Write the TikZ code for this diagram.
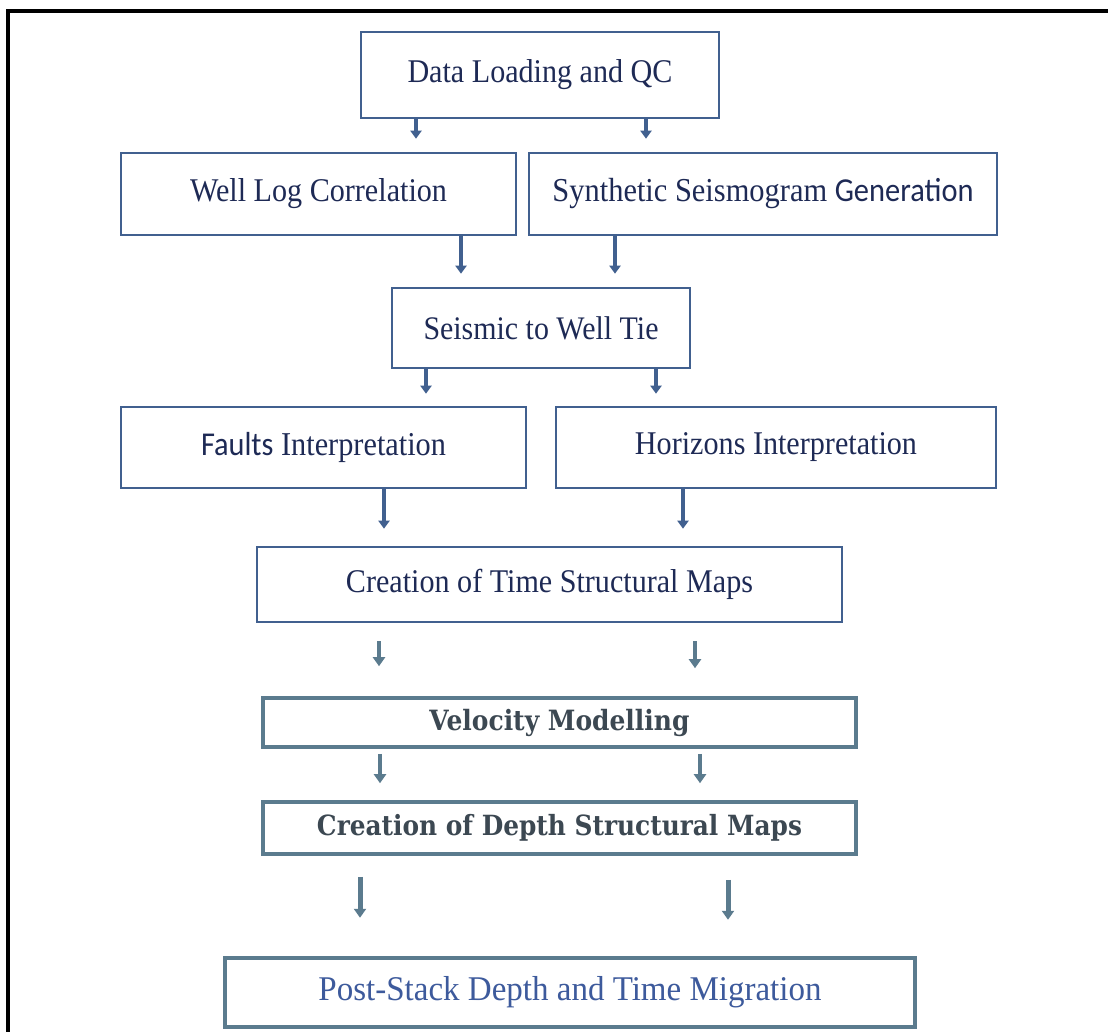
\documentclass[tikz,border=0pt]{standalone}
\usepackage{fontspec}
\setmainfont{Liberation Serif}
\newfontfamily\carl{Carlito}
\newfontfamily\schl{DejaVu Serif}
\usetikzlibrary{arrows.meta}
\definecolor{topblue}{HTML}{41608F}
\definecolor{navy}{HTML}{1E2A55}
\definecolor{grayblue}{HTML}{5B7B8E}
\definecolor{darkgray}{HTML}{3C4852}
\definecolor{postblue}{HTML}{3D5A9C}
\newcommand\tb[3]{\scalebox{1}[#2]{\resizebox{#1pt}{!}{#3}}}
\begin{document}
\begin{tikzpicture}[x=1pt,y=-1pt,
  box/.style={draw=topblue, line width=2.6pt, fill=white, inner sep=0pt, text=navy},
  lbox/.style={draw=grayblue, line width=3.6pt, fill=white, inner sep=0pt, text=darkgray},
  pbox/.style={draw=grayblue, line width=4.5pt, fill=white, inner sep=0pt, text=postblue},
  arr/.style={draw=topblue, line width=4pt, -{Triangle[width=11pt,length=8pt]}},
  larr/.style={draw=grayblue, line width=4.2pt, -{Triangle[width=12pt,length=9pt]}}]
\useasboundingbox (0,0) rectangle (1108,1032);
\fill[white] (0,0) rectangle (1108,1032);
\draw[black, line width=4.5pt] (8,1032) -- (8,11) -- (1108,11);

\node[box, minimum width=358pt, minimum height=86pt] (data) at (540,75) {\tb{265}{1.1}{Data Loading and QC}};
\node[box, minimum width=395pt, minimum height=82pt] (well) at (318.5,194) {\tb{257}{1.1}{Well Log Correlation}};
\node[box, minimum width=468pt, minimum height=82pt] (synth) at (763,194) {\tb{421}{1.1}{Synthetic Seismogram {\carl Generation}}};
\node[box, minimum width=298pt, minimum height=80pt] (tie) at (541,328) {\tb{235}{1.1}{Seismic to Well Tie}};
\node[box, minimum width=405pt, minimum height=81pt] (faults) at (323.5,447.5) {\tb{245}{1.1}{{\carl Faults} Interpretation}};
\node[box, minimum width=440pt, minimum height=81pt] (horiz) at (776,447.5) {\tb{282}{1.1}{Horizons Interpretation}};
\node[box, minimum width=585pt, minimum height=75pt] (time) at (549.5,584.5) {\tb{407}{1.1}{Creation of Time Structural Maps}};
\node[lbox, minimum width=593pt, minimum height=49pt] (vel) at (559.5,722.5) {\tb{260}{1.12}{\schl\bfseries Velocity Modelling}};
\node[lbox, minimum width=593pt, minimum height=52pt] (depth) at (559.5,828) {\tb{485}{1.12}{\schl\bfseries Creation of Depth Structural Maps}};
\node[pbox, minimum width=690pt, minimum height=69pt] (post) at (570,992.5) {\raisebox{-2pt}{\tb{503}{1.05}{Post-Stack Depth and Time Migration}}};

% top arrows
\draw[arr, shorten >=13pt] ([xshift=-124pt]data.south) -- ([xshift=97.5pt]well.north);
\draw[arr, shorten >=13pt] ([xshift=106pt]data.south) -- ([xshift=-117pt]synth.north);
\draw[arr, shorten >=13pt] ([xshift=142.5pt]well.south) -- ([xshift=-80pt]tie.north);
\draw[arr, shorten >=13pt] ([xshift=-148pt]synth.south) -- ([xshift=74pt]tie.north);
\draw[arr, shorten >=12pt] ([xshift=-115pt]tie.south) -- ([xshift=102.5pt]faults.north);
\draw[arr, shorten >=12pt] ([xshift=115pt]tie.south) -- ([xshift=-120pt]horiz.north);
\draw[arr, shorten >=17pt] ([xshift=60.5pt]faults.south) -- ([xshift=-165.5pt]time.north);
\draw[arr, shorten >=17pt] ([xshift=-93pt]horiz.south) -- ([xshift=133.5pt]time.north);
% lower arrows
\draw[larr, shorten <=18pt, shorten >=30pt] ([xshift=-170.5pt]time.south) -- ([xshift=-180.5pt]vel.north);
\draw[larr, shorten <=18pt, shorten >=28pt] ([xshift=145.5pt]time.south) -- ([xshift=135.5pt]vel.north);
\draw[larr, shorten <=5pt, shorten >=17pt] ([xshift=-179.5pt]vel.south) -- ([xshift=-179.5pt]depth.north);
\draw[larr, shorten <=5pt, shorten >=17pt] ([xshift=140.5pt]vel.south) -- ([xshift=140.5pt]depth.north);
\draw[larr, line width=5pt, shorten <=21pt, shorten >=38pt] ([xshift=-199.5pt]depth.south) -- ([xshift=-210pt]post.north);
\draw[larr, line width=5pt, shorten <=24pt, shorten >=36pt] ([xshift=168.5pt]depth.south) -- ([xshift=158pt]post.north);
\end{tikzpicture}
\end{document}
